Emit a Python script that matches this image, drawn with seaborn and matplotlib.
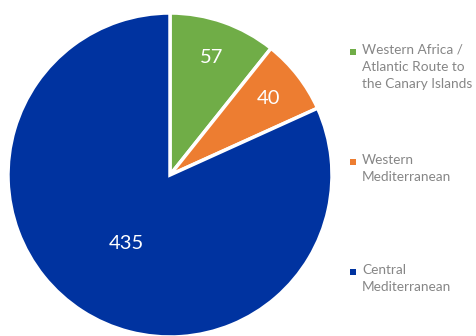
import matplotlib
matplotlib.use("Agg")
import matplotlib.pyplot as plt
import seaborn as sns
import numpy as np
from matplotlib.patches import Rectangle

sns.set_theme(style="white")
plt.rcParams['font.family'] = ['Lato', 'DejaVu Sans']

routes = ["Western Africa /\nAtlantic Route to\nthe Canary Islands",
          "Western\nMediterranean",
          "Central\nMediterranean"]
values = [57, 40, 435]
colors = ["#70AD47", "#ED7D31", "#0033A0"]

fig = plt.figure(figsize=(4.77, 3.36), dpi=100)
ax = fig.add_axes([8/477, -1/336, 324/477, 324/336])
wedges, _ = ax.pie(values, colors=colors, startangle=90, counterclock=False,
                   radius=1, wedgeprops=dict(edgecolor="white", linewidth=2.5))
ax.set_xlim(-1, 1)
ax.set_ylim(-1, 1)
ax.set_aspect("equal")
ax.axis("off")

dists = [0.77, 0.77, 0.50]
for w, v, d in zip(wedges, values, dists):
    ang = np.deg2rad((w.theta1 + w.theta2) / 2)
    ax.text(d * np.cos(ang), d * np.sin(ang), str(v), color="white",
            fontsize=14.5, ha="center", va="center")

W, H = 477, 336
tops = [44, 154, 264]
for lab, col, t in zip(routes, colors, tops):
    fig.patches.append(Rectangle((350/W, 1 - (t + 11)/H), 6/W, 6/H,
                                 transform=fig.transFigure, facecolor=col,
                                 edgecolor="none"))
    fig.text(362/W, 1 - t/H, lab, color="#868686", fontsize=9.8,
             ha="left", va="top", linespacing=1.5)

fig.savefig("out.png", dpi=100)
